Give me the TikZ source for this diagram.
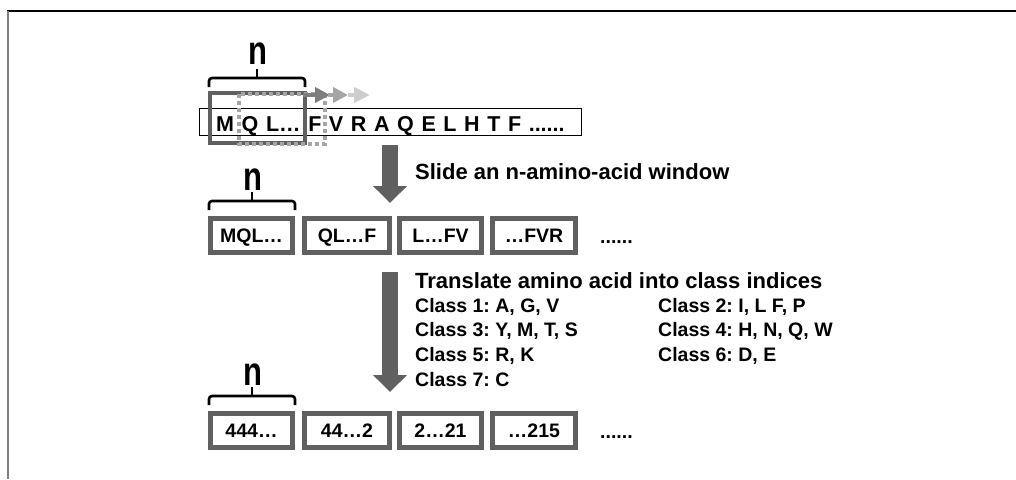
\documentclass[tikz,border=0pt]{standalone}
\usepackage{fontspec}
\setmainfont{Liberation Sans}
\usetikzlibrary{arrows.meta,positioning}
\definecolor{boxgray}{RGB}{96,96,96}
\definecolor{dotgray}{RGB}{165,165,165}
\tikzset{
	win/.style={draw=boxgray, line width=5pt, fill=white, minimum height=34pt, inner sep=0pt, text height=14pt, text depth=0pt, font=\fontsize{19.5}{19.5}\selectfont\bfseries},
	nbrace/.style={line width=2.6pt, rounded corners=3pt},
	bigarrow/.style={draw=boxgray, line width=16pt, -{Triangle[length=17pt,width=33pt]}},
	nlabel/.style={inner sep=0pt, font=\fontsize{31}{31}\selectfont\bfseries},
	txt/.style={anchor=west, inner sep=0pt, font=\fontsize{22}{22}\selectfont\bfseries},
	cls/.style={anchor=west, inner sep=0pt, font=\fontsize{19.5}{19.5}\selectfont\bfseries}
}
\newcommand{\nbr}[3]{\draw[nbrace] (#1,#3)--(#1,#3-9)--(#2,#3-9)--(#2,#3); \draw[line width=2.6pt] ({(#1+#2)/2},#3-9)--({(#1+#2)/2},#3-18);}
\begin{document}
\frenchspacing
\begin{tikzpicture}[x=1pt, y=-1pt, line join=miter]
				\useasboundingbox (0,0) rectangle (1016,479);
				\draw[line width=1.4pt] (7,11)--(1016,11);
				\draw[gray, line width=2pt] (8,11)--(8,479);
				% protein sequence with the sliding window
				\draw[line width=1pt, fill=white] (199,108) rectangle (581,135);
				\node[anchor=base west, inner sep=0pt, font=\fontsize{21.5}{21.5}\selectfont\bfseries] (seq) at (216,131) {\spaceskip=7.6pt\relax M Q L… F V R A Q E L H T F ......};
				\draw[boxgray, line width=4.5pt] (210,93) rectangle (305,143);
				\draw[dotgray, line width=3.5pt, dash pattern=on 4pt off 3pt] (239,94) rectangle (325,144);
				\draw[color={rgb,255:red,125;green,125;blue,125}, line width=4pt, -{Triangle[length=15pt,width=15pt]}] (303,95)--(330,95);
				\draw[color={rgb,255:red,165;green,165;blue,165}, line width=4pt, -{Triangle[length=15pt,width=15pt]}] (328,95)--(348,95);
				\draw[color={rgb,255:red,205;green,205;blue,205}, line width=4pt, -{Triangle[length=16pt,width=15pt]}] (348,95)--(370,95);
				\nbr{209}{305}{87}
				\node[nlabel] (n1) at (258,54) {\scalebox{1}[1.3]{n}};
				% first step
				\coordinate (a1) at (390,145); \coordinate (b1) at (390,203);
				\draw[bigarrow] (a1)--(b1);
				\node[txt] (slide) at (415,172) {Slide an n-amino-acid window};
				\node[win, minimum width=82pt] (w1) at (251.5,235.5) {MQL…};
				\node[win, minimum width=85pt, right=7pt of w1] (w2) {QL…F};
				\node[win, minimum width=82pt, right=5pt of w2] (w3) {L…FV};
				\node[win, minimum width=83pt, right=6pt of w3] (w4) {…FVR};
				\node[anchor=base west, inner sep=0pt, font=\fontsize{19.5}{19.5}\selectfont\bfseries] (wdots) at (600,243) {......};
				\nbr{209}{295}{210}
				\node[nlabel] (n2) at (253,180) {\scalebox{1}[1.3]{n}};
				% second step
				\coordinate (a2) at (390,272); \coordinate (b2) at (390,392);
				\draw[bigarrow] (a2)--(b2);
				\node[txt] (trans) at (415,281) {Translate amino acid into class indices};
				\foreach \t [count=\i] in {{Class 1: A, G, V}, {Class 3: Y, M, T, S}, {Class 5: R, K}, {Class 7: C}}
					\node[cls] (cl\i) at (415,282+24.5*\i) {\t};
				\node[cls] (cr1) at (658,306.5) {Class 2: I, L F, P};
				\node[cls] (cr2) at (658,331) {Class 4: H, N, Q, W};
				\node[cls] (cr3) at (658,355.5) {Class 6: D, E};
				\node[win, minimum width=82pt] (c1) at (251.5,430) {444…};
				\node[win, minimum width=85pt, right=7pt of c1] (c2) {44…2};
				\node[win, minimum width=82pt, right=5pt of c2] (c3) {2…21};
				\node[win, minimum width=83pt, right=6pt of c3] (c4) {…215};
				\node[anchor=base west, inner sep=0pt, font=\fontsize{19.5}{19.5}\selectfont\bfseries] (cdots) at (600,438) {......};
				\nbr{209}{295}{405}
				\node[nlabel] (n3) at (253,375) {\scalebox{1}[1.3]{n}};
\end{tikzpicture}
\end{document}
